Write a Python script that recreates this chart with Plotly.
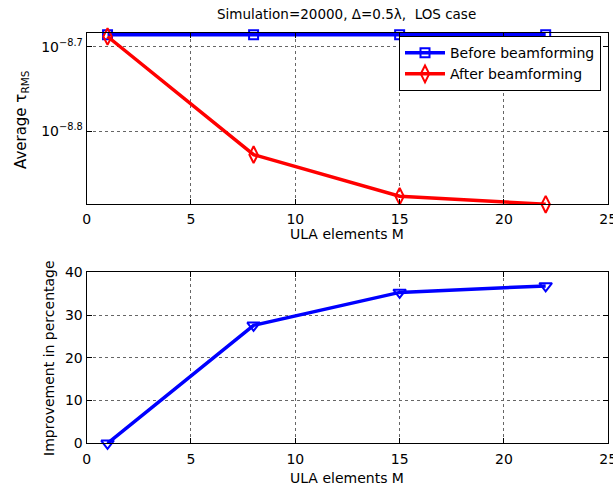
import plotly.graph_objects as go

M = [1, 8, 15, 22]
before_log = [-8.686, -8.686, -8.686, -8.686]
after_log = [-8.688, -8.8274, -8.8765, -8.886]
before = [10 ** v for v in before_log]
after = [10 ** v for v in after_log]
improvement = [0.0, 27.6, 35.3, 36.8]

ytick_vals_top = [10 ** -8.8, 10 ** -8.7]
ytick_text_top = ["10<sup>\u22128.8</sup>", "10<sup>\u22128.7</sup>"]
xtick_vals = [0, 5, 10, 15, 20, 25]
ytick_vals_bottom = [0, 10, 20, 30, 40]

FONT = "DejaVu Sans, Verdana, sans-serif"

fig = go.Figure()
fig.add_trace(go.Scatter(x=M, y=before, mode="lines+markers", name="Before beamforming",
                         line=dict(color="#0000ff", width=3.5),
                         marker=dict(symbol="square-open", size=9, color="#0000ff", line=dict(width=2)),
                         cliponaxis=False, xaxis="x", yaxis="y"))
fig.add_trace(go.Scatter(x=M, y=after, mode="lines+markers", name="After beamforming",
                         line=dict(color="#ff0000", width=3.5),
                         marker=dict(symbol="diamond-tall-open", size=12, color="#ff0000", line=dict(width=2)),
                         cliponaxis=False, xaxis="x", yaxis="y"))
fig.add_trace(go.Scatter(x=M, y=improvement, mode="lines+markers", showlegend=False,
                         line=dict(color="#0000ff", width=3.5),
                         marker=dict(symbol="triangle-down-open", size=11, color="#0000ff", line=dict(width=2)),
                         cliponaxis=False, xaxis="x2", yaxis="y2"))

axcommon = dict(showline=True, linecolor="black", linewidth=1.2, mirror="allticks",
                ticks="inside", ticklen=5, tickcolor="black", automargin=False,
                ticklabeloverflow="allow",
                showgrid=True, gridcolor="#666", griddash="dot", gridwidth=1,
                zeroline=False, tickfont=dict(family=FONT, size=14, color="black"))

XD = [0.1414, 0.9923]
XC = 0.566

fig.update_layout(
    width=613, height=487,
    margin=dict(l=0, r=0, t=0, b=0),
    paper_bgcolor="white", plot_bgcolor="white",
    font=dict(family=FONT, size=14, color="black"),
    xaxis=dict(domain=XD, range=[0, 25], tickvals=xtick_vals, anchor="y",
               ticklabelstandoff=2, **axcommon),
    yaxis=dict(domain=[0.5805, 0.9329], type="log", range=[-8.886, -8.6835],
               tickvals=ytick_vals_top, ticktext=ytick_text_top, anchor="x", **axcommon),
    xaxis2=dict(domain=XD, range=[0, 25], tickvals=xtick_vals, anchor="y2",
                ticklabelstandoff=3, **axcommon),
    yaxis2=dict(domain=[0.0897, 0.4409], range=[0, 40], tickvals=ytick_vals_bottom, anchor="x2", **axcommon),
    legend=dict(x=0.6509, y=0.926, xanchor="left", yanchor="top",
                bgcolor="white", bordercolor="black", borderwidth=1,
                font=dict(family=FONT, size=14), tracegroupgap=0, itemwidth=40),
    annotations=[
        dict(text="Simulation=20000, \u0394=0.5\u03bb,  LOS case", x=XC, y=0.9713,
             xref="paper", yref="paper", showarrow=False, xanchor="center", yanchor="middle",
             font=dict(family=FONT, size=13.5)),
        dict(text="ULA elements M", x=XC, y=0.520, xref="paper", yref="paper",
             showarrow=False, xanchor="center", yanchor="middle", font=dict(family=FONT, size=14)),
        dict(text="ULA elements M", x=XC, y=0.0185, xref="paper", yref="paper",
             showarrow=False, xanchor="center", yanchor="middle", font=dict(family=FONT, size=14)),
        dict(text="Average \u03c4<sub>RMS</sub>", x=0.0359, y=0.7536, xref="paper", yref="paper",
             showarrow=False, xanchor="center", yanchor="middle", textangle=-90,
             font=dict(family=FONT, size=15)),
        dict(text="Improvement in percentage", x=0.0799, y=0.2649, xref="paper", yref="paper",
             showarrow=False, xanchor="center", yanchor="middle", textangle=-90,
             font=dict(family=FONT, size=14)),
    ],
)

fig.write_html("out.html", config={"displayModeBar": False},
               post_script="document.body.style.margin='0';")
